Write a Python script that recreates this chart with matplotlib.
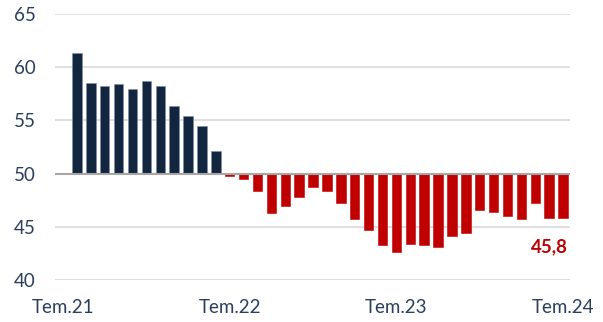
import numpy as np
import matplotlib.pyplot as plt

plt.rcParams['font.family'] = ['Lato', 'DejaVu Sans']

# monthly index values, Aug.21 .. Tem.24
values_up = [61.3, 58.5, 58.2, 58.4, 57.95, 58.7, 58.2, 56.4, 55.4, 54.5, 52.1]
values_down = [49.8, 49.5, 48.4, 46.3, 47.0, 47.8, 48.7, 48.4, 47.2, 45.7,
               44.7, 43.3, 42.6, 43.4, 43.3, 43.1, 44.1, 44.4, 46.6, 46.4,
               46.0, 45.7, 47.2, 45.8, 45.8]
tick_labels = ['Tem.21', 'Tem.22', 'Tem.23', 'Tem.24']
tick_pos = [0, 12, 24, 36]
yticks = [40, 45, 50, 55, 60, 65]
last_label = '45,8'
base = 50

navy = '#12263f'
red = '#c00000'
txt = '#2b3f5c'

values = np.array(values_up + values_down)
x = np.arange(1, len(values) + 1)
colors = [navy] * len(values_up) + [red] * len(values_down)

fig = plt.figure(figsize=(6.03, 3.22), dpi=100)
ax = fig.add_axes([55 / 603, 42 / 322, 515 / 603, 266 / 322])

for y in yticks:
    if y != base:
        ax.axhline(y, color='#d9d9d9', lw=1.2, zorder=0)

edges = ['#7d8ea3' if c == navy else red for c in colors]
ax.bar(x, values - base, bottom=base, width=0.68, color=colors,
       edgecolor=edges, linewidth=0.4, zorder=2)
ax.axhline(base, color='#a6a6a6', lw=1.5, zorder=3)

ax.text(x[-1] + 0.38, 43.15, last_label, color=red, fontsize=13.5,
        fontweight='bold', ha='right', va='center')

ax.set_xlim(-0.58, 36.5)
ax.set_ylim(40, 65)
ax.set_yticks(yticks)
ax.set_xticks(tick_pos)
ax.set_xticklabels(tick_labels)
ax.tick_params(axis='both', length=0, labelsize=13.5, labelcolor=txt)
ax.tick_params(axis='y', pad=14)
ax.tick_params(axis='x', pad=14)
for s in ax.spines.values():
    s.set_visible(False)

fig.savefig('out.png', dpi=100)
